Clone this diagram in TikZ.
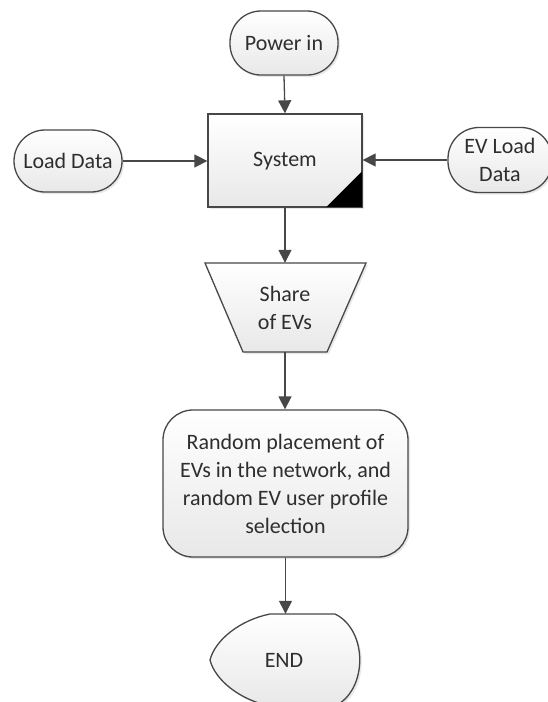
\documentclass[tikz,border=0pt]{standalone}
\usepackage{fontspec}
\setmainfont{Carlito}
\usetikzlibrary{arrows.meta,shadows,calc}
\definecolor{edge}{HTML}{474747}
\definecolor{ink}{HTML}{2E2E2E}
\definecolor{shadeb}{HTML}{E8E8E8}
\begin{document}
\begin{tikzpicture}[x=1pt,y=-1pt,
  every node/.style={font=\fontsize{22}{28}\selectfont, text=ink, align=center},
  box/.style={draw=edge, line width=1.3pt, top color=white, bottom color=shadeb,
    drop shadow={opacity=0.18, shadow xshift=2pt, shadow yshift=-2pt}},
  term/.style={box, rectangle, rounded corners=31pt, inner sep=0pt},
  flow/.style={draw=edge, line width=1.3pt, -{Triangle[length=13pt,width=13pt]}}]
\useasboundingbox (0,0) rectangle (547,702);

% terminators and process box
\node[term, minimum width=108pt, minimum height=64pt] (power) at (284,43) {Power in};
\node[term, minimum width=108pt, minimum height=62pt] (load) at (68,161) {Load Data};
\node[term, minimum width=104pt, minimum height=65pt] (evload) at (500,160) {EV Load\\Data};
\node[box, rectangle, minimum width=154pt, minimum height=93pt, text depth=2pt] (system) at (285,160.5) {System};
\fill[black] (system.south east) -- ++(-37,0) -- ++(37,-37) -- cycle;
\draw[edge, line width=1.3pt] (system.south west) rectangle (system.north east);

% manual input (inverted trapezoid)
\path[box] (205,263) -- (366,263) -- (327,352) -- (243,352) -- cycle;
\node[minimum width=84pt, minimum height=89pt, inner sep=0pt] (share) at (285,307.5) {Share\\of EVs};

% rounded process
\node[box, rectangle, rounded corners=30pt, minimum width=245pt, minimum height=147pt]
  (place) at (285.5,483.5) {Random placement of\\EVs in the network, and\\random EV user profile\\selection};

% display shape
\path[box] (270,614) -- (335,614)
  .. controls (368,630) and (368,690) .. (335,706) -- (270,706)
  .. controls (240,700) and (215,680) .. (210,660)
  .. controls (215,640) and (240,620) .. cycle;
\node[minimum height=92pt, inner sep=0pt] (end) at (284,660) {END};

% connectors
\draw[flow] (power.south) -- (system.north);
\draw[flow] (load.east) -- (load.east -| system.west);
\draw[flow] (evload.west) -- (evload.west -| system.east);
\draw[flow] (system.south) -- (share.north);
\draw[flow] (share.south) -- (share.south |- place.north);
\draw[flow] (place.south) -- (place.south |- end.north);
\end{tikzpicture}
\end{document}
